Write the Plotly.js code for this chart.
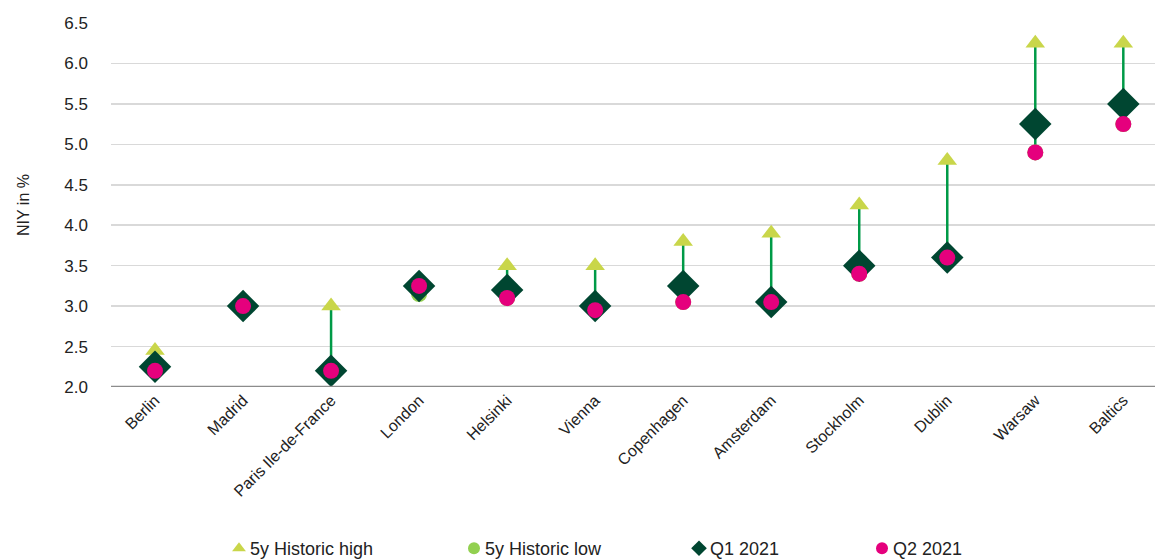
<!DOCTYPE html>
<html>
<head>
<meta charset="utf-8">
<script src="https://cdn.plot.ly/plotly-3.0.1.min.js"></script>
<style>html,body{margin:0;padding:0;background:#fff;}#chart{width:1155px;height:560px;}
#chart .legendpoints{transform:translateX(9px);}</style>
</head>
<body>
<div id="chart"></div>
<script>
const cities = ["Berlin","Madrid","Paris Ile-de-France","London","Helsinki","Vienna","Copenhagen","Amsterdam","Stockholm","Dublin","Warsaw","Baltics"];
const histHigh = [2.45, 3.0, 3.0, 3.25, 3.5, 3.5, 3.8, 3.9, 4.25, 4.8, 6.25, 6.25];
const histLow  = [2.2, 3.0, 2.2, 3.15, 3.1, 2.95, 3.05, 3.05, 3.4, 3.6, 4.9, 5.25];
const q1_2021  = [2.25, 3.0, 2.2, 3.25, 3.2, 3.0, 3.25, 3.05, 3.5, 3.6, 5.25, 5.5];
const q2_2021  = [2.2, 3.0, 2.2, 3.25, 3.1, 2.95, 3.05, 3.05, 3.4, 3.6, 4.9, 5.25];
const yTicks = [2.0, 2.5, 3.0, 3.5, 4.0, 4.5, 5.0, 5.5, 6.0, 6.5];

const FONT = "'Liberation Sans', Arial, sans-serif";

const lx = [], ly = [];
cities.forEach((c, i) => { lx.push(c, c, null); ly.push(histLow[i], histHigh[i], null); });

const traces = [
  {x: lx, y: ly, mode: 'lines', line: {color: '#009a47', width: 2.5}, showlegend: false, hoverinfo: 'skip', type: 'scatter'},
  {x: cities, y: histHigh, name: '5y Historic high', mode: 'markers', type: 'scatter',
   marker: {symbol: 'triangle-up', size: 17, color: '#c9d64a'}, legend: 'legend'},
  {x: cities, y: histLow, name: '5y Historic low', mode: 'markers', type: 'scatter',
   marker: {symbol: 'circle', size: 16, color: '#92d050'}, legend: 'legend2'},
  {x: cities, y: q1_2021, name: 'Q1 2021', mode: 'markers', type: 'scatter',
   marker: {symbol: 'diamond', size: 25, color: '#004631'}, legend: 'legend3'},
  {x: cities, y: q2_2021, name: 'Q2 2021', mode: 'markers', type: 'scatter',
   marker: {symbol: 'circle', size: 16, color: '#e5007d'}, legend: 'legend4'}
];

function leg(xpx) {
  return {xref: 'container', yref: 'container', x: xpx/1155, y: 1 - 530/560, xanchor: 'left', yanchor: 'top',
          orientation: 'h', font: {family: FONT, size: 18, color: '#222'}, bgcolor: 'rgba(0,0,0,0)', itemsizing: 'constant'};
}

const layout = {
  width: 1155, height: 560,
  margin: {l: 111, r: 0, t: 23, b: 173},
  paper_bgcolor: '#fff', plot_bgcolor: '#fff',
  font: {family: FONT, size: 16, color: '#222'},
  xaxis: {type: 'category', range: [-0.5, 11.36], tickangle: -45, showgrid: false, zeroline: false,
          showline: false, ticks: '', tickfont: {family: FONT, size: 16, color: '#222'}, fixedrange: true},
  yaxis: {range: [2.0, 6.5], tickvals: yTicks, ticktext: yTicks.map(v => v.toFixed(1)),
          showgrid: true, gridcolor: '#d9d9d9', gridwidth: 1.5, zeroline: false, showline: false,
          ticks: '', ticklabelstandoff: 22, tickfont: {family: FONT, size: 17, color: '#222'},
          title: {text: 'NIY in %', font: {family: FONT, size: 16, color: '#222'}, standoff: 30}, fixedrange: true},
  shapes: [{type: 'line', xref: 'paper', yref: 'y', x0: 0, x1: 1, y0: 2.0, y1: 2.0, line: {color: '#8c8c8c', width: 2.5}}],
  legend: leg(210),
  legend2: leg(445),
  legend3: leg(670),
  legend4: leg(853),
  showlegend: true
};

Plotly.newPlot('chart', traces, layout, {displayModeBar: false, staticPlot: true});
</script>
</body>
</html>
